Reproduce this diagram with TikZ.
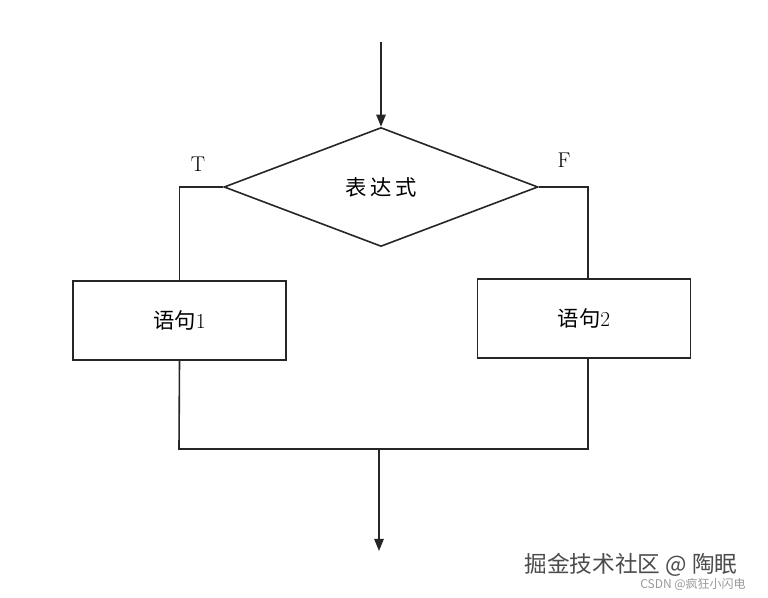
\documentclass[tikz,border=0pt]{standalone}
\usepackage{fontspec}
\newfontfamily\cjk{Noto Sans CJK SC}
\usetikzlibrary{shapes.geometric,arrows.meta}
\begin{document}
\begin{tikzpicture}[x=0.75pt,y=-0.75pt,
  line/.style={draw=black!85,line width=1.2pt},
  arr/.style={line,-{Triangle[length=9pt,width=7pt]}},
  boxnode/.style={line,rectangle,minimum width=213*0.75pt,minimum height=79*0.75pt,inner sep=0pt,font=\fontsize{16}{18}\selectfont},
  dia/.style={line,diamond,inner sep=0pt,minimum width=314*0.75pt,minimum height=119*0.75pt,shape aspect=2.64,font=\fontsize{16}{18}\selectfont},
  lab/.style={font=\fontsize{16}{18}\selectfont}]
\useasboundingbox (0,0) rectangle (768,598);
\node[dia] (d) at (381,187) {\cjk 表\,达\,式};
\node[boxnode] (b1) at (179.5,320.5) {{\cjk 语句}1};
\node[boxnode] (b2) at (584,318.5) {{\cjk 语句}2};
\coordinate (top) at (381,42);
\coordinate (bl) at (179,449);
\coordinate (br) at (588,449);
\coordinate (bm) at (379,449);
\coordinate (end) at (379,551);
\node[lab] (t) at (198,164) {T};
\node[lab] (f) at (564,160) {F};
\draw[arr] (top) -- (d.north);
\draw[line] (d.west) -| (b1.north);
\draw[line] (d.east) -| (b2.north -| br);
\draw[line] (b1.south) -- (bl) -- (br) -- (b2.south -| br);
\draw[arr] (bm) -- (end);
\node[text=black!70,font=\cjk\fontsize{17}{19}\selectfont] (w1) at (631,565) {掘金技术社区 @ 陶眠};
\node[text=black!40,font=\cjk\fontsize{9}{10}\selectfont] (w2) at (693,584) {CSDN @疯狂小闪电};
\end{tikzpicture}
\end{document}
